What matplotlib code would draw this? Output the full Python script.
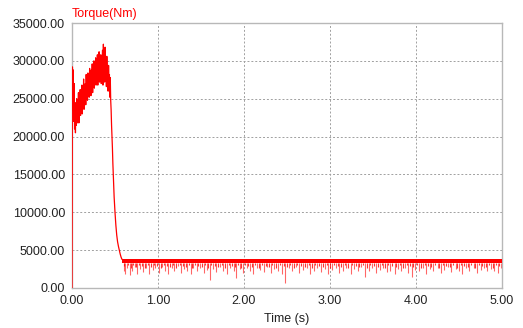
import numpy as np
import matplotlib
matplotlib.use("Agg")
import matplotlib.pyplot as plt

# ---- data ----
# start-up phase, sampled every 5 ms from 0.000 s to 0.450 s
t_start = np.round(np.arange(0, 0.4501, 0.005), 3)
v_start = [0, 29200, 23500, 28800, 22000, 27000, 21000, 24500, 20500, 23800,
           21500, 25000, 21800, 24200, 23000, 25800, 21800, 24800, 23200, 26200,
           22800, 25000, 24200, 26800, 23000, 25400, 24400, 27600, 23600, 26400,
           25000, 27000, 24200, 28200, 25600, 26800, 24800, 28400, 26000, 27200,
           25200, 29000, 26200, 27800, 25400, 28800, 26800, 29600, 25800, 28200,
           27200, 30000, 26400, 28600, 27600, 30400, 26800, 29200, 28000, 30800,
           26800, 29600, 27800, 31200, 27200, 29400, 28400, 30800, 27000, 30200,
           28800, 31400, 26800, 32200, 28200, 30400, 27200, 31800, 27600, 29800,
           26600, 30600, 27800, 28800, 26000, 29400, 27000, 28200, 25200, 27800,
           24800]
# falling edge
t_fall = [0.455, 0.46, 0.465, 0.47, 0.475, 0.48, 0.485, 0.49, 0.495, 0.50,
          0.51, 0.52, 0.53, 0.54, 0.55, 0.56, 0.57, 0.58, 0.60]
v_fall = [23500, 21500, 20000, 18500, 16500, 15000, 13500, 12000, 11000, 10000,
          8300, 7000, 6100, 5500, 5000, 4500, 4100, 3800, 3700]
# steady-state band
t_band = [0.58, 5.0]
band_lo = [3250, 3250]
band_hi = [3800, 3800]
# downward spikes in steady state
spike_t = [0.60, 0.62, 0.64, 0.67, 0.70, 0.73, 0.76, 0.79, 0.83, 0.86, 0.90, 0.94,
           0.97, 1.01, 1.05, 1.08, 1.12, 1.16, 1.19, 1.23, 1.27, 1.30, 1.34, 1.38,
           1.41, 1.45, 1.49, 1.53, 1.57, 1.60, 1.64, 1.68, 1.72, 1.76, 1.80, 1.84,
           1.88, 1.91, 1.95, 1.99, 2.03, 2.07, 2.11, 2.15, 2.19, 2.23, 2.27, 2.31,
           2.35, 2.39, 2.44, 2.48, 2.52, 2.56, 2.60, 2.64, 2.69, 2.73, 2.77, 2.81,
           2.85, 2.90, 2.94, 2.98, 3.02, 3.07, 3.11, 3.15, 3.19, 3.24, 3.28, 3.32,
           3.36, 3.41, 3.45, 3.49, 3.53, 3.58, 3.62, 3.66, 3.70, 3.75, 3.79, 3.83,
           3.87, 3.91, 3.95, 3.99, 4.04, 4.08, 4.12, 4.16, 4.20, 4.25, 4.29, 4.33,
           4.37, 4.41, 4.46, 4.50, 4.54, 4.58, 4.62, 4.67, 4.71, 4.75, 4.79, 4.83,
           4.87, 4.91, 4.95, 4.99]
spike_v = [2200, 1800, 2600, 1700, 2300, 2800, 1900, 2500, 2100, 2700, 1900, 2400,
           2600, 2000, 2800, 2300, 1800, 2600, 2200, 2900, 2000, 2500, 2300, 1900,
           2700, 2200, 2600, 2000, 2400, 1000, 2500, 2100, 2800, 2300, 1800, 2600,
           2200, 1300, 2500, 2000, 2700, 2300, 1900, 2600, 2400, 2100, 2800, 2000,
           2500, 2300, 1900, 700, 2600, 2200, 2800, 2000, 2400, 2600, 1900, 2300,
           2700, 2100, 2500, 1800, 2400, 2700, 2000, 2300, 2600, 1900, 2500, 2200,
           2800, 1500, 2300, 2600, 2000, 2400, 2700, 2100, 2300, 1800, 2500, 2200,
           2600, 2000, 1500, 2400, 2200, 2700, 1900, 2500, 2300, 2600, 2000, 2400,
           2800, 2100, 2500, 2200, 1800, 2600, 2300, 2700, 2000, 2400, 2600, 2200,
           2500, 2300, 2000, 2700]
# shorter spikes between the deep ones
spike2_t = [0.61, 0.65, 0.685, 0.715, 0.745, 0.775, 0.81, 0.845, 0.88, 0.92, 0.955,
            0.99, 1.03, 1.065, 1.10, 1.14, 1.175, 1.21, 1.25, 1.285, 1.32, 1.36,
            1.395, 1.43, 1.47, 1.51, 1.55, 1.585, 1.62, 1.66, 1.70, 1.74, 1.78,
            1.82, 1.86, 1.895, 1.93, 1.97, 2.01, 2.05, 2.09, 2.13, 2.17, 2.21,
            2.25, 2.29, 2.33, 2.37, 2.415, 2.46, 2.50, 2.54, 2.58, 2.62, 2.665,
            2.71, 2.75, 2.79, 2.83, 2.875, 2.92, 2.96, 3.00, 3.045, 3.09, 3.13,
            3.17, 3.215, 3.26, 3.30, 3.34, 3.385, 3.43, 3.47, 3.51, 3.555, 3.60,
            3.64, 3.68, 3.725, 3.77, 3.81, 3.85, 3.89, 3.93, 3.97, 4.015, 4.06,
            4.10, 4.14, 4.18, 4.225, 4.27, 4.31, 4.35, 4.39, 4.435, 4.48, 4.52,
            4.56, 4.60, 4.645, 4.69, 4.73, 4.77, 4.81, 4.85, 4.89, 4.93, 4.97]
spike2_v = [2900, 3000, 2700, 3000, 2800, 3100, 2900, 2700, 3000, 2800, 3100, 2900,
            2700, 3000, 2900, 2800, 3100, 2700, 3000, 2900, 2800, 3100, 2700, 3000,
            2900, 2800, 3000, 2700, 3100, 2900, 2800, 3000, 2700, 3100, 2900, 2800,
            3000, 2700, 3000, 2900, 2800, 3100, 2700, 3000, 2900, 2800, 3100, 2700,
            3000, 2900, 2800, 3000, 2700, 3100, 2900, 2800, 3000, 2700, 3100, 2900,
            2800, 3000, 2700, 3100, 2900, 2800, 3000, 2700, 3000, 2900, 2800, 3100,
            2700, 3000, 2900, 2800, 3000, 2700, 3100, 2900, 2800, 3000, 2700, 3100,
            2900, 2800, 3000, 2700, 3000, 2900, 2800, 3100, 2700, 3000, 2900, 2800,
            3000, 2700, 3100, 2900, 2800, 3000, 2700, 3100, 2900, 2800, 3000, 2700,
            3100, 2900]

x_ticks = [0, 1, 2, 3, 4, 5]
y_ticks = [0, 5000, 10000, 15000, 20000, 25000, 30000, 35000]

# ---- figure ----
plt.rcParams['font.family'] = ['Liberation Sans', 'DejaVu Sans']
fig = plt.figure(figsize=(5.23, 3.28), dpi=100)
ax = fig.add_axes([72/523, 1-288/328, 430/523, 265/328])

red = '#ff0000'
ax.vlines(spike_t, spike_v, band_lo[0], color=red, lw=0.8, alpha=0.6, zorder=2)
ax.vlines(spike2_t, spike2_v, band_lo[0], color=red, lw=0.8, alpha=0.8, zorder=2)
ax.fill_between(t_band, band_lo, band_hi, color=red, lw=0, zorder=3)
ax.plot(list(t_start) + t_fall, v_start + v_fall, color=red, lw=0.9, zorder=4)

ax.set_xlim(0, 5)
ax.set_ylim(0, 35000)
ax.set_xticks(x_ticks)
ax.set_yticks(y_ticks)
ax.set_xticklabels([f"{v:.2f}" for v in x_ticks])
ax.set_yticklabels([f"{v:.2f}" for v in y_ticks])
ax.tick_params(length=0, labelsize=9, pad=5, colors='#222222')
ax.grid(True, color='#a0a0a0', linestyle=(0, (2, 2)), lw=0.7)
for s in ax.spines.values():
    s.set_color('#b8b8b8')
    s.set_linewidth(1.0)

fig.text(72/523, 1-14/328, 'Torque(Nm)', color=red, fontsize=9, ha='left', va='center')
fig.text(287/523, 1-319/328, 'Time (s)', color='#222222', fontsize=9, ha='center', va='center')

fig.savefig('out.png', dpi=100)
